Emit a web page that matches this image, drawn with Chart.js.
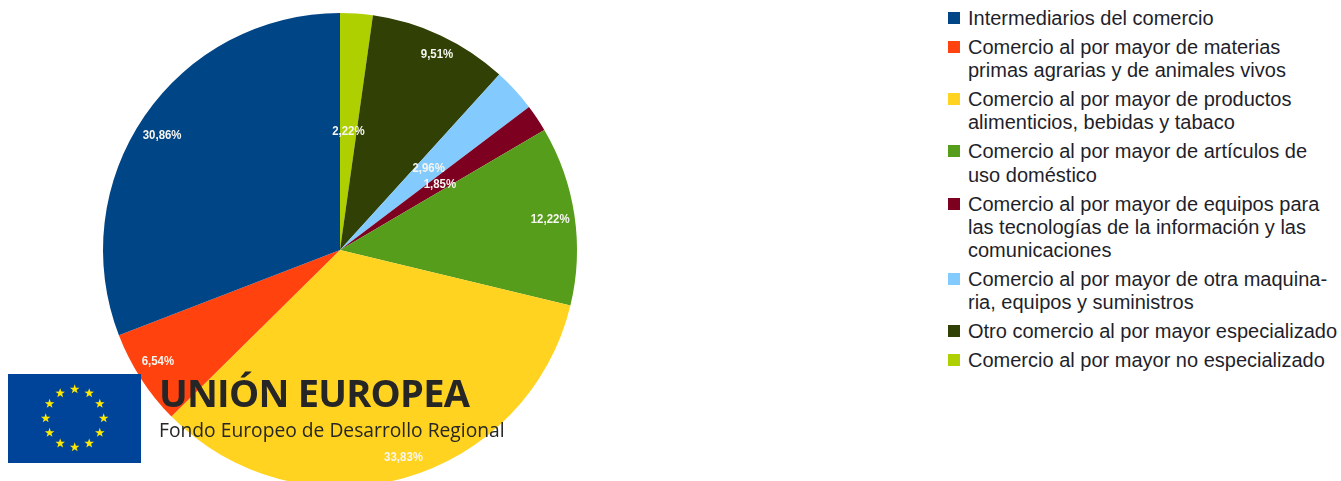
<!DOCTYPE html>
<html lang="es">
<head>
<meta charset="utf-8">
<title>Comercio al por mayor</title>
<script src="https://cdn.jsdelivr.net/npm/chart.js@4/dist/chart.umd.min.js"></script>
<style>
    html, body { margin: 0; width: 1341px; height: 481px; overflow: hidden; background: #fff; }
    #pie-wrap { position: absolute; left: 0; top: 0; width: 680px; height: 500px; }
    #legend { position: absolute; left: 948px; top: 7px; width: 393px; font-family: "Liberation Sans", sans-serif; font-size: 20px; line-height: 23.2px; color: #1f1f2b; }
    .item { position: relative; padding-left: 20px; margin-bottom: 5.8px; white-space: pre; }
    .swatch { position: absolute; left: 0; top: 5px; width: 12px; height: 12px; }
    .logo { position: absolute; color: #262626; font-family: "Open Sans", sans-serif; white-space: nowrap; }
    #logo-title { left: 159px; top: 366px; font-size: 38px; line-height: 52px; font-weight: 700; letter-spacing: -0.75px; }
    #logo-sub { left: 159px; top: 416px; font-size: 19.25px; line-height: 28px; }
</style>
</head>
<body>
<div id="pie-wrap"><canvas id="pie"></canvas></div>
<div class="logo" id="logo-title">UNIÓN EUROPEA</div>
<div class="logo" id="logo-sub">Fondo Europeo de Desarrollo Regional</div>
<div id="legend"></div>
<script>
// Legend order, the pie itself runs clockwise from the last one
const categories = [
    "Intermediarios del comercio",
    "Comercio al por mayor de materias\nprimas agrarias y de animales vivos",
    "Comercio al por mayor de productos\nalimenticios, bebidas y tabaco",
    "Comercio al por mayor de artículos de\nuso doméstico",
    "Comercio al por mayor de equipos para\nlas tecnologías de la información y las\ncomunicaciones",
    "Comercio al por mayor de otra maquina-\nria, equipos y suministros",
    "Otro comercio al por mayor especializado",
    "Comercio al por mayor no especializado"
];
const shares = [30.86, 6.54, 33.83, 12.22, 1.85, 2.96, 9.51, 2.22];
const colors = ["#004586", "#ff420e", "#ffd320", "#579d1c", "#7e0021", "#83caff", "#314004", "#aecf00"];

// Percent labels: the thin slices get theirs halfway out, the others near the rim
const sliceLabels = {
    id: "sliceLabels",
    afterDatasetsDraw(chart) {
        // small hand corrections per slice, clockwise from the top
        const nudge = [[0, 1], [6, -1], [0, 0], [0, 1], [-2, 1], [6, 1], [-2, -5], [-1, 7]];
        const ctx = chart.ctx;
        ctx.save();
        ctx.font = "bold 13px 'Liberation Sans', sans-serif";
        ctx.fillStyle = "#f6f6f0";
        ctx.textAlign = "center";
        ctx.textBaseline = "middle";
        chart.getDatasetMeta(0).data.forEach((arc, i) => {
            const value = chart.data.datasets[0].data[i];
            const mid = (arc.startAngle + arc.endAngle) / 2;
            const r = arc.outerRadius * (value < 5 ? 0.507 : 0.905);
            const text = value.toFixed(2).replace(".", ",") + "%";
            // maxWidth squeezes the text, the original labels are narrow
            const narrow = ctx.measureText(text).width * 0.88;
            ctx.fillText(text, arc.x + Math.cos(mid) * r + nudge[i][0], arc.y + Math.sin(mid) * r + nudge[i][1], narrow);
        });
        ctx.restore();
    }
};

// EU flag in the lower left corner
const euFlag = {
    id: "euFlag",
    afterDraw(chart) {
        const ctx = chart.ctx;
        ctx.save();
        ctx.fillStyle = "#00449a";
        ctx.fillRect(8, 374, 133, 89);
        ctx.fillStyle = "#ffe800";
        for (let s = 0; s < 12; s++) {
            const a = s * Math.PI / 6;
            const cx = 74.7 + Math.cos(a) * 29;
            const cy = 418.3 + Math.sin(a) * 29;
            ctx.beginPath();
            for (let p = 0; p < 10; p++) {
                const r = p % 2 ? 2 : 5;
                const b = -Math.PI / 2 + p * Math.PI / 5;
                ctx.lineTo(cx + Math.cos(b) * r, cy + Math.sin(b) * r);
            }
            ctx.closePath();
            ctx.fill();
        }
        ctx.restore();
    }
};

const legend = document.getElementById("legend");
categories.forEach((name, i) => {
    const item = document.createElement("div");
    item.className = "item";
    item.textContent = name;
    const swatch = document.createElement("span");
    swatch.className = "swatch";
    swatch.style.background = colors[i];
    item.appendChild(swatch);
    legend.appendChild(item);
});

new Chart(document.getElementById("pie"), {
    type: "pie",
    data: {
        labels: [...categories].reverse(),
        datasets: [{
            data: [...shares].reverse(),
            backgroundColor: [...colors].reverse(),
            borderWidth: 0
        }]
    },
    options: {
        responsive: true,
        maintainAspectRatio: false,
        animation: false,
        layout: { padding: 13 },
        plugins: {
            legend: { display: false },
            tooltip: { enabled: false }
        }
    },
    plugins: [sliceLabels, euFlag]
});
</script>
</body>
</html>
